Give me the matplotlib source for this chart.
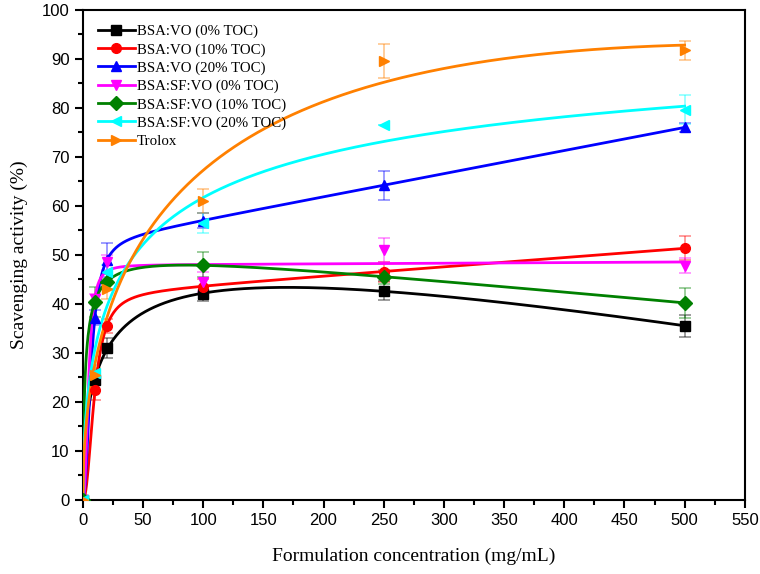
import numpy as np
import matplotlib
matplotlib.use('Agg')
import matplotlib.pyplot as plt
from matplotlib.ticker import MultipleLocator

# concentrations (mg/mL)
conc = [0, 10, 20, 100, 250, 500]

labels = ['BSA:VO (0% TOC)', 'BSA:VO (10% TOC)', 'BSA:VO (20% TOC)',
          'BSA:SF:VO (0% TOC)', 'BSA:SF:VO (10% TOC)', 'BSA:SF:VO (20% TOC)',
          'Trolox']

bsa_vo_0 = [0, 24.5, 31.0, 42.0, 42.7, 35.5]
bsa_vo_10 = [0, 22.4, 35.5, 43.5, 46.5, 51.4]
bsa_vo_20 = [0, 37.2, 49.0, 57.0, 64.2, 76.0]
bsa_sf_vo_0 = [0, 41.0, 48.5, 44.5, 51.0, 47.8]
bsa_sf_vo_10 = [0, 40.4, 44.5, 48.0, 45.5, 40.2]
bsa_sf_vo_20 = [0, 26.0, 46.5, 56.5, 76.5, 79.6]
trolox = [0, 25.5, 43.0, 61.0, 89.5, 91.7]

err_vo_0 = [0, 2.0, 2.0, 1.5, 2.0, 2.3]
err_vo_10 = [0, 2.0, 1.5, 1.5, 2.0, 2.5]
err_vo_20 = [0, 1.5, 3.5, 1.5, 3.0, 1.0]
err_sf_0 = [0, 1.0, 1.5, 2.0, 2.5, 1.5]
err_sf_10 = [0, 3.0, 1.5, 2.5, 1.5, 3.0]
err_sf_20 = [0, 1.5, 1.5, 2.0, 0.0, 3.0]
err_trolox = [0, 1.5, 2.0, 2.5, 3.5, 2.0]

series = [bsa_vo_0, bsa_vo_10, bsa_vo_20, bsa_sf_vo_0, bsa_sf_vo_10, bsa_sf_vo_20, trolox]
errors = [err_vo_0, err_vo_10, err_vo_20, err_sf_0, err_sf_10, err_sf_20, err_trolox]
# whether the fitted curve gets a linear drift term
linear_term = [True, True, True, True, True, False, True]
colors = ['black', 'red', 'blue', 'magenta', 'green', 'cyan', '#ff8000']
markers = ['s', 'o', '^', 'v', 'D', '<', '>']


def fit_curve(x, y, xs, linear):
    # y = a*x^n/(b^n+x^n) (+ c*x) ; b, n by grid search, a, c by least squares
    x = np.asarray(x, float)
    y = np.asarray(y, float)
    best = None
    for n in np.linspace(0.5, 2.5, 41):
        for b in np.logspace(0, 3, 120):
            f = x ** n / (b ** n + x ** n)
            A = np.column_stack([f, x]) if linear else f[:, None]
            coef, *_ = np.linalg.lstsq(A, y, rcond=None)
            r = np.sum((A @ coef - y) ** 2)
            if best is None or r < best[0]:
                best = (r, n, b, coef)
    _, n, b, coef = best
    g = xs ** n / (b ** n + xs ** n)
    out = coef[0] * g
    if linear:
        out = out + coef[1] * xs
    return out


plt.rcParams['font.family'] = 'sans-serif'
plt.rcParams['font.sans-serif'] = ['Liberation Sans', 'DejaVu Sans']
fig = plt.figure(figsize=(7.6, 5.74), dpi=100)
ax = fig.add_axes([0.109, 0.129, 0.871, 0.854])

xs = np.linspace(0, 500, 800)
handles = []
for y, e, c, m, lab, lin in zip(series, errors, colors, markers, labels, linear_term):
    ax.errorbar(conc, y, yerr=e, fmt='none', ecolor=c, alpha=0.45,
                elinewidth=1.2, capsize=4, capthick=1.2, zorder=2)
    ax.plot(xs, fit_curve(conc, y, xs, lin), color=c, lw=2, zorder=3)
    ax.plot(conc, y, ls='none', marker=m, color=c, ms=7, zorder=4)
    h, = ax.plot([], [], color=c, lw=2, marker=m, ms=7)
    handles.append(h)

ax.set_xlim(0, 550)
ax.set_ylim(0, 100)
ax.xaxis.set_major_locator(MultipleLocator(50))
ax.xaxis.set_minor_locator(MultipleLocator(25))
ax.yaxis.set_major_locator(MultipleLocator(10))
ax.yaxis.set_minor_locator(MultipleLocator(5))
ax.tick_params(which='major', direction='out', length=6, width=1.5, labelsize=12)
ax.tick_params(which='minor', direction='out', length=3.5, width=1.5)
ax.tick_params(top=False, right=False)
for t in ax.get_xticklabels() + ax.get_yticklabels():
    t.set_fontfamily('Liberation Sans')
for s in ax.spines.values():
    s.set_linewidth(1.5)

ax.set_xlabel('Formulation concentration (mg/mL)', family='Liberation Serif',
              fontsize=14, labelpad=14)
ax.set_ylabel('Scavenging activity (%)', family='Liberation Serif',
              fontsize=14, labelpad=10)

leg = ax.legend(handles, labels, loc='upper left', frameon=False,
                prop={'family': 'Liberation Serif', 'size': 10.7},
                handlelength=2.5, handletextpad=0.15, labelspacing=0.32,
                borderaxespad=0.6)

fig.savefig('out.png', dpi=100)
